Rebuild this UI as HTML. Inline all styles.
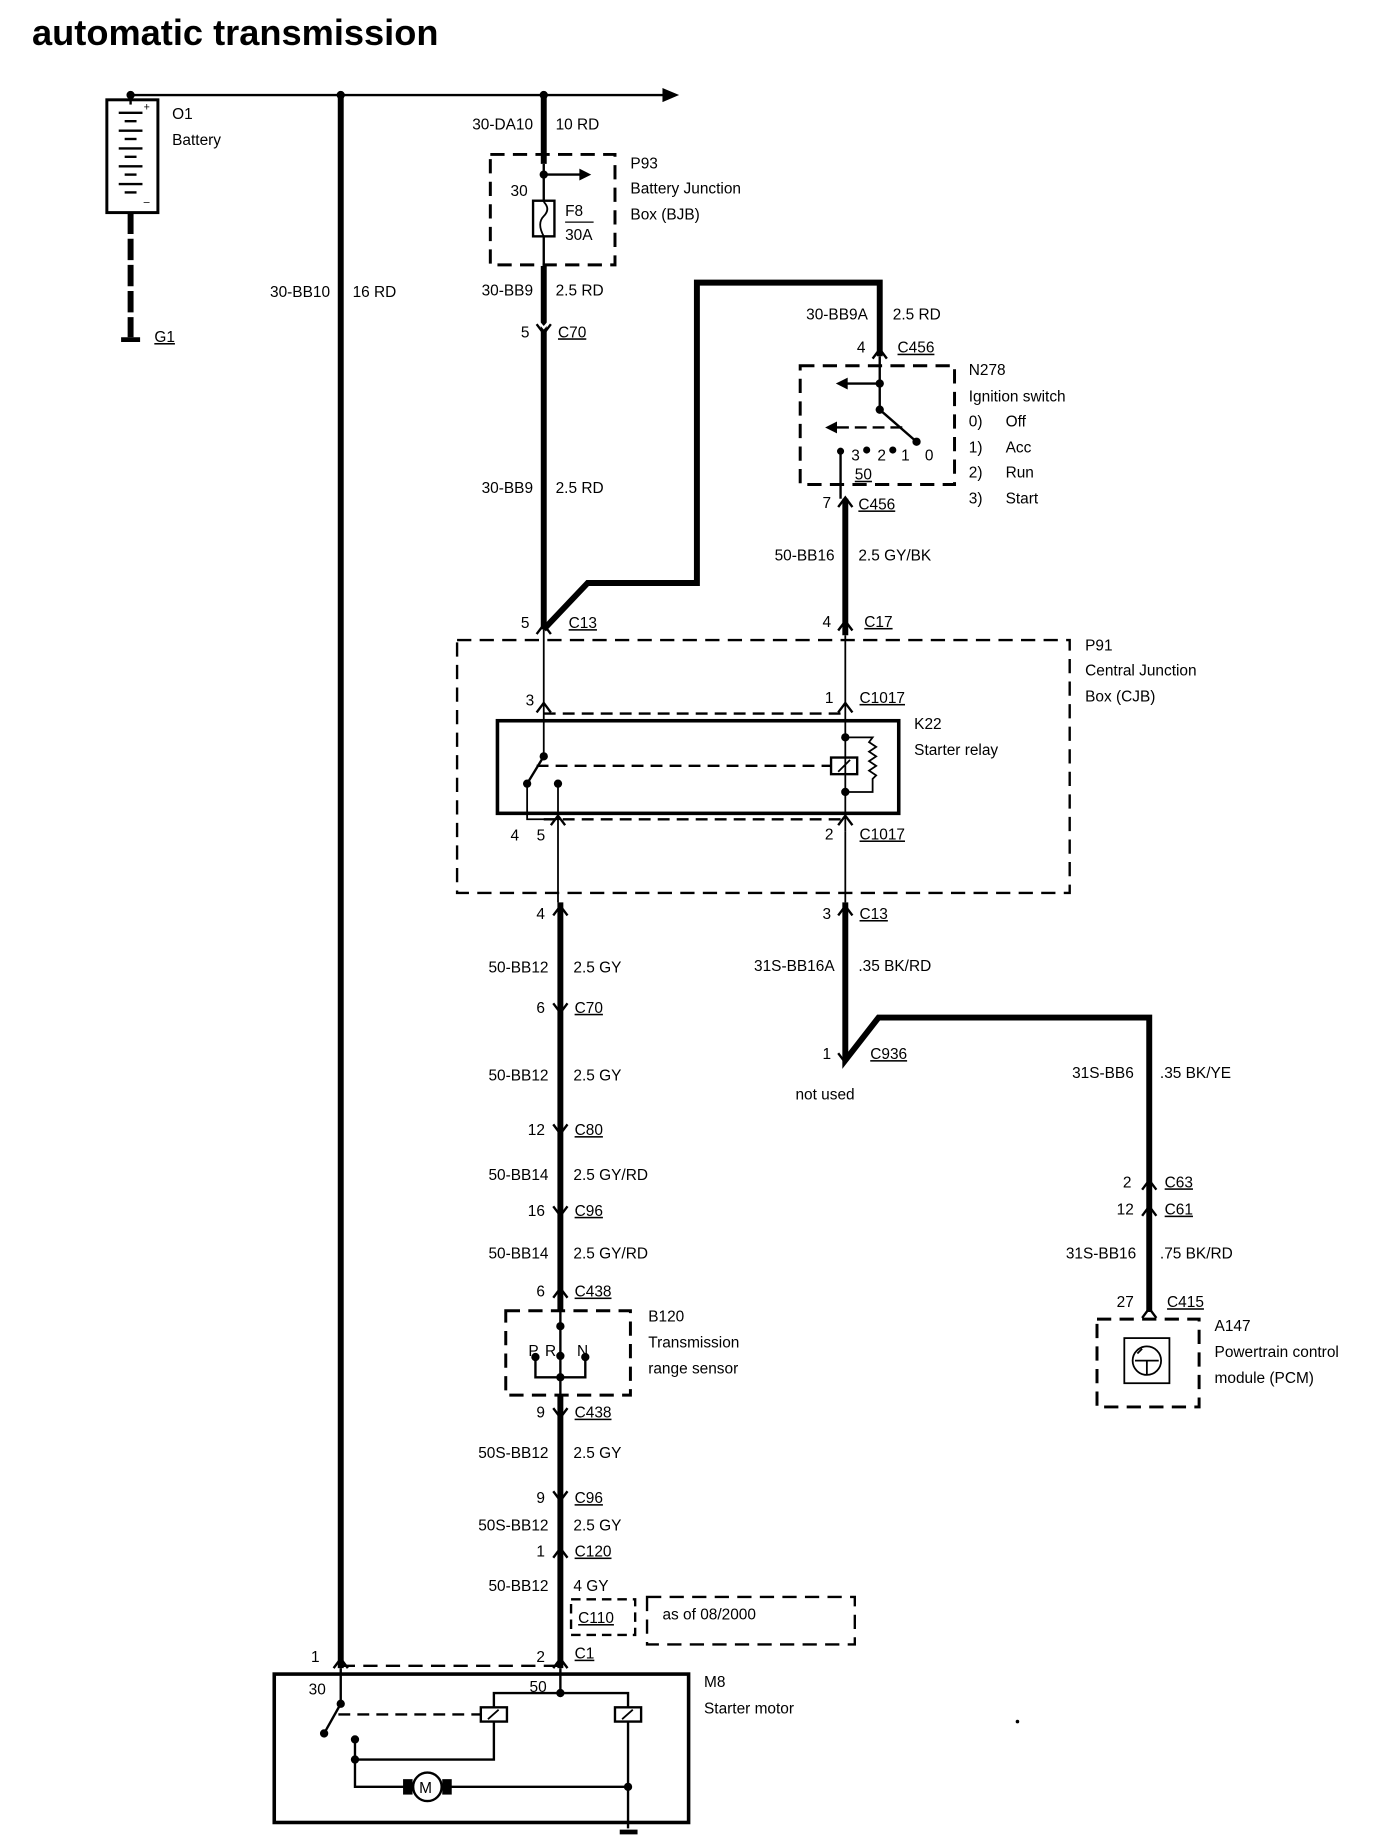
<!DOCTYPE html>
<html><head><meta charset="utf-8"><style>
html,body{margin:0;padding:0;background:#fff}
svg{display:block}
text{font-family:"Liberation Sans",sans-serif;font-size:13px;fill:#000}
.r{text-anchor:end}
.t{font-weight:bold;font-size:30.5px}
</style></head><body>
<svg width="1376" height="1838" viewBox="0 0 1159 1548" xmlns="http://www.w3.org/2000/svg" stroke="#000" fill="none">
<text class="t" x="27" y="38" stroke="none">automatic transmission</text>

<line x1="110" y1="80" x2="560" y2="80" stroke-width="2"/>
<polygon points="558,74 572,80 558,86" fill="#000" stroke="none"/>
<circle cx="110" cy="80" r="3" fill="#000"/><circle cx="287" cy="80" r="3" fill="#000"/><circle cx="458" cy="80" r="3" fill="#000"/>

<line x1="110" y1="80" x2="110" y2="88" stroke-width="2"/>
<rect x="90" y="84" width="43" height="95" stroke-width="2.5"/>
<g stroke-width="2"><line x1="100" y1="95" x2="120" y2="95"/><line x1="105" y1="102" x2="115" y2="102"/><line x1="100" y1="110" x2="120" y2="110"/><line x1="105" y1="117" x2="115" y2="117"/><line x1="100" y1="125" x2="120" y2="125"/><line x1="105" y1="132" x2="115" y2="132"/><line x1="100" y1="140" x2="120" y2="140"/><line x1="105" y1="147" x2="115" y2="147"/><line x1="100" y1="155" x2="120" y2="155"/><line x1="105" y1="162" x2="115" y2="162"/></g>
<text x="121" y="93" stroke="none" style="font-size:9px">+</text><text x="121" y="173" stroke="none" style="font-size:9px">–</text>
<line x1="110" y1="179" x2="110" y2="284" stroke-width="5" stroke-dasharray="18,4"/>
<line x1="102" y1="286" x2="118" y2="286" stroke-width="4"/>
<text x="145" y="100" stroke="none">O1</text><text x="145" y="122" stroke="none">Battery</text>
<text x="130" y="288" stroke="none" text-decoration="underline">G1</text>

<line x1="287" y1="80" x2="287" y2="1405" stroke-width="5"/>
<text class="r" x="278" y="250" stroke="none">30-BB10</text><text x="297" y="250" stroke="none">16 RD</text>

<line x1="458" y1="80" x2="458" y2="138" stroke-width="5"/>
<rect x="413" y="130" width="105" height="93" stroke-width="2.5" stroke-dasharray="12,7"/>
<line x1="458" y1="138" x2="458" y2="170" stroke-width="2"/>
<circle cx="458" cy="147" r="3" fill="#000"/>
<line x1="458" y1="147" x2="490" y2="147" stroke-width="2"/><polygon points="488,142 498,147 488,152" fill="#000" stroke="none"/>
<rect x="449" y="169" width="18" height="30" stroke-width="2"/>
<path d="M458 170 q6 6 0 12 q-6 6 0 17" stroke-width="1.5"/>
<line x1="458" y1="199" x2="458" y2="224" stroke-width="2"/>
<line x1="458" y1="224" x2="458" y2="530" stroke-width="5"/>
<text x="430" y="165" stroke="none">30</text>
<text x="476" y="182" stroke="none">F8</text><line x1="476" y1="187" x2="500" y2="187" stroke-width="1"/><text x="476" y="202" stroke="none">30A</text>
<text x="531" y="142" stroke="none">P93</text><text x="531" y="163" stroke="none">Battery Junction</text><text x="531" y="185" stroke="none">Box (BJB)</text>
<text class="r" x="449" y="109" stroke="none">30-DA10</text><text x="468" y="109" stroke="none">10 RD</text>
<text class="r" x="449" y="249" stroke="none">30-BB9</text><text x="468" y="249" stroke="none">2.5 RD</text>
<text class="r" x="446" y="284" stroke="none">5</text><text x="470" y="284" stroke="none" text-decoration="underline">C70</text>
<text class="r" x="449" y="415" stroke="none">30-BB9</text><text x="468" y="415" stroke="none">2.5 RD</text>
<text class="r" x="446" y="529" stroke="none">5</text><text x="479" y="529" stroke="none" text-decoration="underline">C13</text>
<path d="M451 268 L458 276 L465 268" stroke="#fff" stroke-width="2"/>

<path d="M458 530 L495 491 L587 491 L587 238 L741 238 L741 300" stroke-width="5"/>
<text class="r" x="731" y="269" stroke="none">30-BB9A</text><text x="752" y="269" stroke="none">2.5 RD</text>
<text class="r" x="729" y="297" stroke="none">4</text><text x="756" y="297" stroke="none" text-decoration="underline">C456</text>

<rect x="674" y="308" width="130" height="100" stroke-width="2.5" stroke-dasharray="12,7"/>
<line x1="741" y1="300" x2="741" y2="345" stroke-width="2"/>
<circle cx="741" cy="323" r="3" fill="#000"/><line x1="741" y1="323" x2="712" y2="323" stroke-width="2"/><polygon points="714,318 704,323 714,328" fill="#000" stroke="none"/>
<circle cx="741" cy="345" r="3" fill="#000"/><line x1="741" y1="345" x2="772" y2="372" stroke-width="2"/><circle cx="772" cy="372" r="3" fill="#000"/>
<line x1="760" y1="360" x2="705" y2="360" stroke-width="2" stroke-dasharray="10,5"/><polygon points="705,355 695,360 705,365" fill="#000" stroke="none"/>
<circle cx="708" cy="380" r="2.5" fill="#000"/><line x1="708" y1="380" x2="708" y2="420" stroke-width="2"/>
<circle cx="730" cy="379" r="2.5" fill="#000"/><circle cx="752" cy="379" r="2.5" fill="#000"/>
<text x="717" y="388" stroke="none">3</text><text x="739" y="388" stroke="none">2</text><text x="759" y="388" stroke="none">1</text><text x="779" y="388" stroke="none">0</text>
<text x="720" y="404" stroke="none" text-decoration="underline">50</text>
<text x="816" y="316" stroke="none">N278</text><text x="816" y="338" stroke="none">Ignition switch</text>
<text x="816" y="359" stroke="none">0)</text><text x="847" y="359" stroke="none">Off</text>
<text x="816" y="381" stroke="none">1)</text><text x="847" y="381" stroke="none">Acc</text>
<text x="816" y="402" stroke="none">2)</text><text x="847" y="402" stroke="none">Run</text>
<text x="816" y="424" stroke="none">3)</text><text x="847" y="424" stroke="none">Start</text>
<line x1="712" y1="420" x2="712" y2="535" stroke-width="5"/>
<text class="r" x="700" y="428" stroke="none">7</text><text x="723" y="429" stroke="none" text-decoration="underline">C456</text>
<text class="r" x="703" y="472" stroke="none">50-BB16</text><text x="723" y="472" stroke="none">2.5 GY/BK</text>
<text class="r" x="700" y="528" stroke="none">4</text><text x="728" y="528" stroke="none" text-decoration="underline">C17</text>

<rect x="385" y="539" width="516" height="213" stroke-width="2" stroke-dasharray="12,7"/>
<text x="914" y="548" stroke="none">P91</text><text x="914" y="569" stroke="none">Central Junction</text><text x="914" y="591" stroke="none">Box (CJB)</text>
<line x1="458" y1="530" x2="458" y2="637" stroke-width="1.5"/>
<line x1="712" y1="535" x2="712" y2="700" stroke-width="1.5"/>
<line x1="458" y1="601" x2="712" y2="601" stroke-width="2" stroke-dasharray="10,6"/>
<text class="r" x="450" y="594" stroke="none">3</text><text class="r" x="702" y="592" stroke="none">1</text><text x="724" y="592" stroke="none" text-decoration="underline">C1017</text>
<rect x="419" y="607" width="338" height="78" stroke-width="3"/>
<text x="770" y="614" stroke="none">K22</text><text x="770" y="636" stroke="none">Starter relay</text>
<circle cx="458" cy="637" r="3" fill="#000"/><line x1="458" y1="637" x2="444" y2="660" stroke-width="2"/><circle cx="444" cy="660" r="3" fill="#000"/>
<circle cx="470" cy="660" r="3" fill="#000"/>
<line x1="452" y1="645" x2="700" y2="645" stroke-width="2" stroke-dasharray="10,6"/>
<rect x="700" y="638" width="22" height="14" stroke-width="2"/><line x1="706" y1="650" x2="716" y2="640" stroke-width="1.5"/>
<circle cx="712" cy="621" r="3" fill="#000"/><circle cx="712" cy="667" r="3" fill="#000"/>
<path d="M712 621 H735 l-3 4 6 4 -6 4 6 4 -6 4 6 4 -6 4 6 4 -3 3 V667 H712" stroke-width="1.5"/>
<path d="M444 660 V690 H472" stroke-width="1.5"/><line x1="470" y1="660" x2="470" y2="760" stroke-width="1.5"/>
<line x1="458" y1="690" x2="712" y2="690" stroke-width="2" stroke-dasharray="10,6"/>
<text x="430" y="708" stroke="none">4</text><text x="452" y="708" stroke="none">5</text>
<text class="r" x="702" y="707" stroke="none">2</text><text x="724" y="707" stroke="none" text-decoration="underline">C1017</text>
<line x1="712" y1="700" x2="712" y2="760" stroke-width="1.5"/>

<path d="M712 760 V893 L740 857 H968 V1105" stroke-width="5"/>
<text class="r" x="700" y="774" stroke="none">3</text><text x="724" y="774" stroke="none" text-decoration="underline">C13</text>
<text class="r" x="703" y="818" stroke="none">31S-BB16A</text><text x="723" y="818" stroke="none">.35 BK/RD</text>
<text class="r" x="700" y="892" stroke="none">1</text><text x="733" y="892" stroke="none" text-decoration="underline">C936</text>
<text x="670" y="926" stroke="none">not used</text>
<text class="r" x="955" y="908" stroke="none">31S-BB6</text><text x="977" y="908" stroke="none">.35 BK/YE</text>
<text class="r" x="953" y="1000" stroke="none">2</text><text x="981" y="1000" stroke="none" text-decoration="underline">C63</text>
<text class="r" x="955" y="1023" stroke="none">12</text><text x="981" y="1023" stroke="none" text-decoration="underline">C61</text>
<text class="r" x="957" y="1060" stroke="none">31S-BB16</text><text x="977" y="1060" stroke="none">.75 BK/RD</text>
<text class="r" x="955" y="1101" stroke="none">27</text><text x="983" y="1101" stroke="none" text-decoration="underline">C415</text>
<rect x="924" y="1111" width="86" height="74" stroke-width="2.5" stroke-dasharray="12,7"/>
<rect x="947" y="1127" width="38" height="38" stroke-width="1.5"/><circle cx="966" cy="1146" r="12" stroke-width="1.5"/>
<path d="M956 1146 H976 M966 1146 V1158 M958 1140 l4 -4" stroke-width="1.5"/>
<text x="1023" y="1121" stroke="none">A147</text><text x="1023" y="1143" stroke="none">Powertrain control</text><text x="1023" y="1165" stroke="none">module (PCM)</text>

<line x1="472" y1="760" x2="472" y2="1405" stroke-width="5"/>
<text class="r" x="459" y="774" stroke="none">4</text>
<text class="r" x="462" y="819" stroke="none">50-BB12</text><text x="483" y="819" stroke="none">2.5 GY</text>
<text class="r" x="459" y="853" stroke="none">6</text><text x="484" y="853" stroke="none" text-decoration="underline">C70</text>
<text class="r" x="462" y="910" stroke="none">50-BB12</text><text x="483" y="910" stroke="none">2.5 GY</text>
<text class="r" x="459" y="956" stroke="none">12</text><text x="484" y="956" stroke="none" text-decoration="underline">C80</text>
<text class="r" x="462" y="994" stroke="none">50-BB14</text><text x="483" y="994" stroke="none">2.5 GY/RD</text>
<text class="r" x="459" y="1024" stroke="none">16</text><text x="484" y="1024" stroke="none" text-decoration="underline">C96</text>
<text class="r" x="462" y="1060" stroke="none">50-BB14</text><text x="483" y="1060" stroke="none">2.5 GY/RD</text>
<text class="r" x="459" y="1092" stroke="none">6</text><text x="484" y="1092" stroke="none" text-decoration="underline">C438</text>
<rect x="426" y="1104" width="105" height="71" fill="#fff" stroke-width="2.5" stroke-dasharray="12,7"/>
<line x1="472" y1="1104" x2="472" y2="1175" stroke-width="2"/>
<circle cx="472" cy="1117" r="3" fill="#000"/><circle cx="472" cy="1142" r="3" fill="#000"/><circle cx="472" cy="1160" r="3" fill="#000"/>
<path d="M451 1143 V1160 H493 V1143" stroke-width="2"/><circle cx="451" cy="1143" r="3" fill="#000"/><circle cx="493" cy="1143" r="3" fill="#000"/>
<text x="445" y="1142" stroke="none">P</text><text x="459" y="1142" stroke="none">R</text><text x="486" y="1142" stroke="none">N</text>
<text x="546" y="1113" stroke="none">B120</text><text x="546" y="1135" stroke="none">Transmission</text><text x="546" y="1157" stroke="none">range sensor</text>
<text class="r" x="459" y="1194" stroke="none">9</text><text x="484" y="1194" stroke="none" text-decoration="underline">C438</text>
<text class="r" x="462" y="1228" stroke="none">50S-BB12</text><text x="483" y="1228" stroke="none">2.5 GY</text>
<text class="r" x="459" y="1266" stroke="none">9</text><text x="484" y="1266" stroke="none" text-decoration="underline">C96</text>
<text class="r" x="462" y="1289" stroke="none">50S-BB12</text><text x="483" y="1289" stroke="none">2.5 GY</text>
<text class="r" x="459" y="1311" stroke="none">1</text><text x="484" y="1311" stroke="none" text-decoration="underline">C120</text>
<text class="r" x="462" y="1340" stroke="none">50-BB12</text><text x="483" y="1340" stroke="none">4 GY</text>
<rect x="481" y="1347" width="54" height="30" stroke-width="2" stroke-dasharray="8,5"/>
<text x="487" y="1367" stroke="none" text-decoration="underline">C110</text>
<rect x="545" y="1345" width="175" height="40" stroke-width="2" stroke-dasharray="12,7"/>
<text x="558" y="1364" stroke="none">as of 08/2000</text>
<text class="r" x="459" y="1400" stroke="none">2</text><text x="484" y="1397" stroke="none" text-decoration="underline">C1</text>
<text x="262" y="1400" stroke="none">1</text>

<g stroke-width="2">
<path d="M452 273 l6 8 6 -8"/><path d="M452 534 l6 -8 6 8"/><path d="M735 302 l6 -8 6 8"/><path d="M706 427 l6 -8 6 8"/>
<path d="M706 531 l6 -8 6 8"/><path d="M452 600 l6 -8 6 8"/><path d="M706 600 l6 -8 6 8"/>
<path d="M464 695 l6 -8 6 8"/><path d="M706 695 l6 -8 6 8"/><path d="M466 771 l6 -8 6 8"/><path d="M706 771 l6 -8 6 8"/>
<path d="M466 845 l6 8 6 -8"/><path d="M466 947 l6 8 6 -8"/><path d="M466 1016 l6 8 6 -8"/><path d="M466 1093 l6 -8 6 8"/>
<path d="M466 1186 l6 8 6 -8"/><path d="M466 1256 l6 8 6 -8"/><path d="M466 1312 l6 -8 6 8"/><path d="M466 1405 l6 -8 6 8"/>
<path d="M281 1405 l6 -8 6 8"/><path d="M706 887 l6 8 6 -8"/><path d="M962 1002 l6 -8 6 8"/><path d="M962 1024 l6 -8 6 8"/><path d="M962 1110 l6 -8 6 8"/>
</g>

<line x1="287" y1="1403" x2="472" y2="1403" stroke-width="2" stroke-dasharray="12,7"/>
<rect x="231" y="1410" width="349" height="125" stroke-width="3"/>
<text x="593" y="1421" stroke="none">M8</text><text x="593" y="1443" stroke="none">Starter motor</text>
<text x="260" y="1427" stroke="none">30</text><text x="446" y="1425" stroke="none">50</text>
<line x1="287" y1="1405" x2="287" y2="1435" stroke-width="2"/><circle cx="287" cy="1435" r="3" fill="#000"/>
<line x1="287" y1="1435" x2="273" y2="1460" stroke-width="2"/><circle cx="273" cy="1460" r="3" fill="#000"/>
<line x1="285" y1="1444" x2="405" y2="1444" stroke-width="2" stroke-dasharray="10,6"/>
<rect x="405" y="1438" width="22" height="12" stroke-width="2"/><line x1="411" y1="1448" x2="420" y2="1440" stroke-width="1.5"/>
<rect x="518" y="1438" width="22" height="12" stroke-width="2"/><line x1="524" y1="1448" x2="533" y2="1440" stroke-width="1.5"/>
<line x1="472" y1="1405" x2="472" y2="1426" stroke-width="2"/><circle cx="472" cy="1426" r="3" fill="#000"/>
<path d="M416 1438 V1426 H529 V1438" stroke-width="2"/>
<path d="M416 1450 V1482 H299" stroke-width="2"/>
<circle cx="299" cy="1465" r="3" fill="#000"/><circle cx="299" cy="1482" r="3" fill="#000"/>
<path d="M299 1465 V1505 H340" stroke-width="2"/>
<rect x="340" y="1499" width="7" height="12" fill="#000"/><rect x="373" y="1499" width="7" height="12" fill="#000"/>
<circle cx="360" cy="1505" r="12" stroke-width="2"/><text x="353" y="1510" stroke="none">M</text>
<line x1="380" y1="1505" x2="529" y2="1505" stroke-width="2"/><circle cx="529" cy="1505" r="3" fill="#000"/>
<line x1="529" y1="1450" x2="529" y2="1540" stroke-width="2"/>
<line x1="522" y1="1543" x2="537" y2="1543" stroke-width="4"/>
<circle cx="857" cy="1450" r="1" fill="#000"/>
</svg>
</body></html>
